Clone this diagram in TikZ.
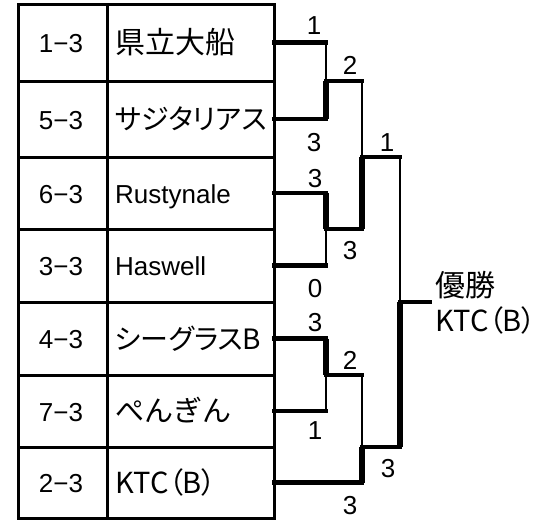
\documentclass[tikz,border=0pt]{standalone}
\usepackage{fontspec}
\setmainfont{Liberation Sans}
\newfontfamily\jpfont[RawFeature=+palt]{Noto Sans CJK JP}
\newfontfamily\jpfontw{Noto Sans CJK JP}
\newcommand{\lfs}{\fontsize{26}{30}\selectfont}
\newcommand{\jfs}{\jpfont\fontsize{28}{32}\selectfont}
\newcommand{\jfsb}{\jpfont\fontsize{29}{33}\selectfont}
\newcommand{\kfs}{\jpfontw\fontsize{30}{34}\selectfont}
\newcommand{\hfs}{\jpfontw\fontsize{29}{33}\selectfont}
\begin{document}
\begin{tikzpicture}[x=1pt,y=-1pt,
  grid/.style={line width=3pt, line cap=rect},
  hline/.style={line width=4.5pt, line cap=rect},
  winv/.style={line width=6pt, line cap=butt},
  losev/.style={line width=2pt, line cap=butt},
  numtxt/.style={anchor=base, font=\lfs, inner sep=0pt},
  nametxt/.style={anchor=base west, font=\jfs, inner sep=0pt},
  latintxt/.style={anchor=base west, font=\lfs, inner sep=0pt},
  score/.style={anchor=base, font=\lfs, inner sep=0pt}]
\useasboundingbox (0,0) rectangle (549,520);
% table grid
\draw[grid] (18,4) rectangle (274,518);
\draw[grid] (107,4) -- (107,518);
\foreach \y in {81,157,229,302,375,447} \draw[grid] (18,\y) -- (274,\y);
% table texts
\node[numtxt] (n1) at (61,52.5) {1−3};
\node[numtxt] (n2) at (61,129) {5−3};
\node[numtxt] (n3) at (61,203) {6−3};
\node[numtxt] (n4) at (61,275.5) {3−3};
\node[numtxt] (n5) at (61,348.5) {4−3};
\node[numtxt] (n6) at (61,421) {7−3};
\node[numtxt] (n7) at (61,492.5) {2−3};
\node[nametxt, font=\kfs] (t1) at (115,53.5) {県立大船};
\node[nametxt] (t2) at (115,129.5) {サジタリアス};
\node[latintxt] (t3) at (115,203) {Rustynale};
\node[latintxt] (t4) at (115,275.5) {Haswell};
\node[nametxt] (t5) at (115,349) {シーグラスB};
\node[nametxt, font=\hfs] (t6) at (115,421.5) {ぺんぎん};
\node[nametxt, font=\jfsb] (t7) at (115,493) {KTC（B）};
% bracket coordinates
\coordinate (e1) at (274,42.5);
\coordinate (e2) at (274,119);
\coordinate (e3) at (274,193);
\coordinate (e4) at (274,265.5);
\coordinate (e5) at (274,338.5);
\coordinate (e6) at (274,411);
\coordinate (e7) at (274,482.5);
\coordinate (a1) at (326,42.5);
\coordinate (a2) at (326,119);
\coordinate (a3) at (326,193);
\coordinate (a4) at (326,265.5);
\coordinate (a5) at (326,338.5);
\coordinate (a6) at (326,411);
\coordinate (m1) at (326,81);
\coordinate (m2) at (326,229);
\coordinate (m3) at (326,375);
\coordinate (b1) at (362,81);
\coordinate (b2) at (362,229);
\coordinate (b3) at (362,375);
\coordinate (b7) at (362,482.5);
\coordinate (q1) at (362,157);
\coordinate (q2) at (362,447);
\coordinate (c1) at (400,157);
\coordinate (c2) at (400,447);
\coordinate (f) at (400,302);
\coordinate (w) at (430,302);
% horizontals
\draw[hline] (e1) -- (a1);
\draw[hline] (e2) -- (a2);
\draw[hline] (e3) -- (a3);
\draw[hline] (e4) -- (a4);
\draw[hline] (e5) -- (a5);
\draw[hline] (e6) -- (a6);
\draw[hline] (e7) -- (b7);
\draw[hline] (m1) -- (b1);
\draw[hline] (m2) -- (b2);
\draw[hline] (m3) -- (b3);
\draw[hline] (q1) -- (c1);
\draw[hline] (q2) -- (c2);
\draw[hline] (f) -- (w);
% verticals
\draw[losev] (a1) -- (m1);
\draw[winv] (m1) -- (a2);
\draw[winv] (a3) -- (m2);
\draw[losev] (m2) -- (a4);
\draw[winv] (a5) -- (m3);
\draw[losev] (m3) -- (a6);
\draw[losev] (b1) -- (q1);
\draw[winv] (q1) -- (b2);
\draw[losev] (b3) -- (q2);
\draw[winv] (q2) -- (b7);
\draw[losev] (c1) -- (f);
\draw[winv] (f) -- (c2);
% scores
\node[score] (s1) at (314,34) {1};
\node[score] (s2) at (314,151) {3};
\node[score] (s3) at (350,74) {2};
\node[score] (s4) at (387,151) {1};
\node[score] (s5) at (315,187) {3};
\node[score] (s6) at (350,259) {3};
\node[score] (s7) at (315,297) {0};
\node[score] (s8) at (315,331) {3};
\node[score] (s9) at (350,369) {2};
\node[score] (s10) at (315,439) {1};
\node[score] (s11) at (388,477) {3};
\node[score] (s12) at (350,514) {3};
% champion
\node[nametxt, font=\kfs] (champ) at (435,296) {優勝};
\node[nametxt, font=\jfsb] (champname) at (435,331) {KTC（B）};
\end{tikzpicture}
\end{document}
